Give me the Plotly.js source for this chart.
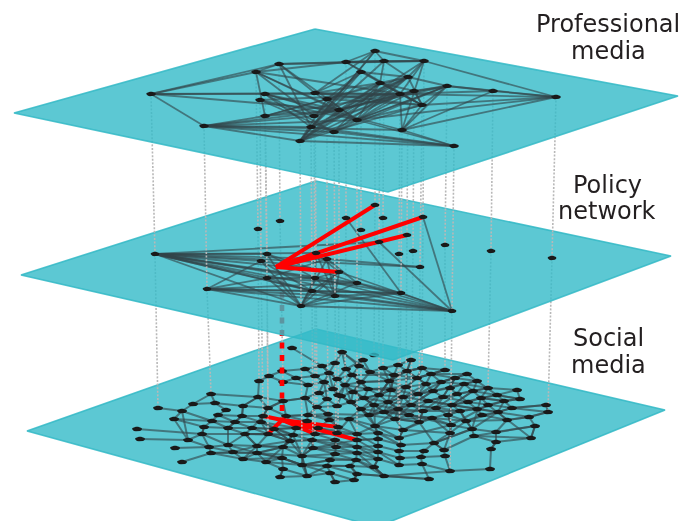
<!DOCTYPE html>
<html><head><meta charset="utf-8">
<script src="https://cdn.plot.ly/plotly-3.0.1.min.js"></script>
<style>html,body{margin:0;padding:0;background:#fff}#chart{filter:blur(0.25px)}</style></head>
<body><div id="chart" style="width:693px;height:521px"></div>
<script>
// plane outlines
const planeTopX=[315,678,388,14], planeTopY=[29,96,192,113];
const planeMidX=[316,671,393,21], planeMidY=[181,256,360,275];
const planeBotX=[316,665,377,27], planeBotY=[329,410,527,431];
// professional media layer (x,y)
const topX=[151,204,256,279,265,260,265,300,311,314,315,327,339,334,357,346,375,384,361,380,424,408,400,414,422,402,447,454,493,556];
const topY=[94,126,72,64,94,100,116,141,127,116,93,99,110,132,120,62,51,61,72,83,61,77,94,91,105,130,86,146,91,97];
// policy network layer
const midX=[155,207,258,280,267,261,267,301,312,315,316,327,339,335,357,346,375,383,361,379,423,407,399,413,420,401,445,452,491,552];
const midY=[254,289,229,221,254,261,278,306,291,278,253,259,272,296,283,218,205,218,230,242,217,235,254,251,267,293,245,311,251,258];
// social media layer
const botX=[292,282,269,259,283,305,322,335,296,315,329,337,308,324,333,319,305,327,338,283,258,211,215,193,158,182,243,226,268,317,337,218,174,212,242,263,286,308,328,235,261,307,329,204,228,252,274,296,318,338,137,202,245,268,293,315,337,140,188,290,312,335,228,209,257,283,313,336,175,233,257,211,335,302,282,243,330,182,266,302,327,283,330,280,307,335,
342,374,363,359,411,398,346,383,422,445,407,370,352,394,431,467,417,455,361,389,441,477,426,464,345,368,406,450,488,517,353,391,433,473,418,457,497,341,379,403,443,481,520,364,428,468,504,351,388,411,452,488,546,374,512,361,398,436,477,548,384,423,460,498,369,409,448,482,529,349,395,432,507,419,466,451,375,535,403,472,496,378,450,357,474,399,531,378,357,496,434,401,378,357,491,424,444,399,378,357,421,445,400,378,356,422,399,374,350,450,490,384,357,429,354];
const botY=[348,371,376,381,382,369,366,363,378,376,373,379,385,382,389,393,398,399,395,401,397,394,403,404,408,411,406,410,408,407,406,415,419,421,416,416,416,415,414,422,422,421,420,427,428,428,429,428,428,427,429,434,434,434,435,434,433,439,440,441,440,440,445,447,446,447,448,447,448,452,453,453,454,456,458,459,460,462,462,465,466,469,473,477,476,482,
352,355,360,366,360,365,369,368,368,370,371,372,375,375,374,374,378,378,382,381,382,381,384,384,385,389,387,388,388,390,392,390,391,391,394,394,395,396,395,397,397,398,399,398,401,402,401,402,402,405,405,405,405,405,408,409,409,408,409,412,412,411,411,412,415,415,415,415,417,419,419,418,420,422,421,425,426,426,430,429,432,433,433,434,436,438,438,439,440,442,443,445,446,447,449,451,450,451,452,453,457,456,458,459,460,464,465,467,466,471,469,476,474,479,480];
// node pairs, professional media
const topEdges=[[0,1],[0,2],[0,3],[0,4],[0,10],[0,12],[1,6],[1,7],[1,8],[1,9],[1,12],[1,13],[1,14],[1,25],[1,27],[2,3],[2,6],[2,22],[2,12],[2,9],[2,15],[2,14],[3,8],[3,14],[3,20],[3,10],[3,17],[4,8],[4,13],[4,14],[4,22],[4,12],[4,25],[5,13],[5,14],[5,9],[5,22],[6,11],[6,22],[6,12],[6,21],[7,16],[7,21],[7,26],[7,19],[7,22],[7,24],[7,18],[7,20],[7,11],[7,12],[7,8],[7,27],[8,16],[8,17],[8,22],[8,23],[8,21],[8,27],[13,21],[13,19],[13,26],[13,23],[13,27],[14,19],[14,22],[14,21],[14,24],[14,26],[14,29],[14,27],[9,22],[9,18],[9,23],[9,21],[10,16],[10,18],[10,22],[10,19],[10,12],[10,24],[11,14],[11,18],[11,19],[11,24],[11,22],[12,21],[12,23],[12,19],[12,26],[15,16],[15,20],[15,17],[15,22],[15,24],[16,20],[16,17],[17,20],[17,21],[17,19],[18,21],[18,24],[19,21],[19,24],[19,23],[20,21],[20,25],[20,22],[20,29],[21,26],[21,24],[22,23],[22,24],[22,26],[22,25],[22,29],[22,28],[23,26],[23,24],[24,26],[25,27],[25,26],[25,24],[25,29],[25,28],[26,28],[26,29],[28,29],[24,29]];
// node pairs, policy network
const midEdges=[[0,4],[0,5],[0,6],[0,7],[0,8],[0,9],[0,10],[0,11],[0,12],[0,13],[0,14],[0,19],[0,24],[0,25],[0,27],[1,5],[1,6],[1,7],[1,8],[1,13],[1,14],[1,25],[1,27],[4,7],[4,9],[4,14],[5,7],[5,8],[5,12],[6,7],[6,8],[6,9],[6,11],[6,14],[7,8],[7,9],[7,11],[7,12],[7,13],[7,14],[7,25],[7,27],[8,25],[8,12],[8,27],[9,12],[9,13],[9,27],[10,9],[10,12],[10,13],[11,13],[11,14],[11,24],[12,13],[12,27],[13,25],[13,27],[14,25],[14,27],[15,25],[19,27],[20,27],[25,27]];
// node chains, social media
const botChains=[[24,25,23,21,20,26,22,23],[21,22,27,31,34,35],[25,33,31,39,45,53,59],[25,58,32,25],[32,33],[32,43,33,44,34],[43,51,63,62,44,39],[50,51,52,53,54],[57,58,51,43,44,45,46,47],[58,63,71,69,62,52],[68,63,69,75,64,52],[77,71,75,70,74,81],[64,70,78,74],[69,70,65,59,46],[75,78,81,83,84],[64,65,73,79,80,85],[70,74,79,82,85],[83,81,84,82],[78,65,54,47,41,37,29],[26,34,40,46,54,60,66],[28,35,40,53,59,60,67],[35,45,52,64,53],[19,28,26],[20,28,36,37,38,49],[36,47,48,56,61],[16,29,38,42,49,56],[19,36,41,48,55,61,67],[19,16,37,42,48],[40,47,55,60,66,73],[59,65,74,79,76,72],[60,73,84,80,76],[66,72,67,61],[55,56,155],[54,55],
[0,6,10,13,15,17,29,38],[1,5,6,7,86,89,97,93,91,90],[2,1,8,9,10,11,92,88,89],[3,2,4,8,12,13,14,18,110,104,105,96,94,95],[3,20,19,16,15,14,11,98,99,102,100,101],[4,12,16,29,30,123,116,111,112,108,106,103,107],[5,9,13,17,30,133,129,124,125,120,118,113,109,114,115],[7,10,14,123,133,141,139,134,135,130,126,121,119,122,128],[6,11,110,116,129,139,142,147,143,136,131,127,132,140,138],[86,92,98,104,111,124,117,112,102,96,90],[88,97,105,117,125,135,143,152,160,153,158,154,145],[89,98,110,123,141,150,146,151,157,161,165,166,163,172],[93,99,105,112,120,130,136,144,149,154,163],[91,96,108,118,126,131,137,140,145,138],[94,100,106,109,119,127,132,128,115],[95,100,103,113,121,131,144,153],[101,107,114,122,128],[94,102,108,120,125,134,146,156,164,171,177,183,188,192],[104,116,133,141,155,169,174,179,185,190,194,198,200],[111,129,139,150,162,167,173,178,184,189,193,197],[117,124,134,142,156,159,157,168,176,181,186,191,199],[135,147,159,164],[136,148,152,161,168,182,187,195,196],[144,148,160,165,170,175,180,196],[149,158,166,175],[170,172,163],[155,162,156,151,159],[169,167,171,164],[174,173,177,176,182],[179,178,183,181],[185,184,188,186,187],[190,189,192,191,195],[194,193,197,199],[198,197],[200,198],[197,195],[85,200],[79,194],[72,190],[67,185],[61,179],[56,174,173],[49,169],[42,155],[38,150,146,147,148],[48,169,162,164,168],[55,169,178],[60,179,184],[66,185,189],[73,190,193],[80,198,197],[82,200],[37,155,167,177],[110,133,150,156,157],[99,117,134,151,161],[96,112,125,142,162,173],[106,118,135,146],[103,126,143,148,165],[107,119,136,149,153],[114,127,137,158,172],[122,132,149],
[86,97,99,96,94],[92,104,105,102,100,95],[98,111,117,120,118,106,101],[110,129,134,125,130,126,103],[123,141,146,135,143,121,109,107],[133,150,142,151,130,136,119,114],[116,139,156,159,176,165,127,122],[129,146,157,160,149,140],[141,162,171,161,137,132],[97,104,116],[93,105,124,129,133],[91,99,117,111,110],[90,96,105,124,141],[94,96,99,124,139,162],[95,102,112,134,150],[100,108,125,146,155],[101,103,106,120,142,150],[107,109,118,135,156],[114,119,126,147,159],[115,122,127,136,152,161,168],[128,132,144,148,157,164],[138,140,149,165,176],[145,154,158,160,168],[163,166,170,182,176],[172,175,180],
[44,52,53,46,47,48],[62,64,65,66,67],[69,64,59,60,61],[71,70,73,72],[75,74,79,76],[78,79,84],[51,62,70,65],[45,46,36,37],[39,40,35,28,19],[34,26,20],[33,39,34],[52,54,73,66],[40,54,65],[46,59,73,84],[66,174,184,192],[67,179,189,193],[72,185,193,197],[76,190,197,199],[80,194,198,200]];
// which social node each policy node continues to
const midToBot=[24,21,3,4,28,35,53,73,66,55,29,38,49,67,174,110,87,93,104,124,94,112,142,135,159,183,95,195,114,145];
// highlighted actor
const policyHub=[276,267];
const policyTargets=[16,20,21,12,10];
const socialHub=[282,420];
const socialTargets=[35,53,174,49,48,55];
const crossX=[282,282], crossY=[280,420];
const labelLines=["Professional","media","Policy","network","Social","media"];
const labelX=[608,608,607,607,608,608], labelY=[24,51,185,211,338,365];

const PLANE_FILL='rgba(51,186,200,0.8)', PLANE_LINE='rgba(50,184,198,0.85)';
const EDGE='rgba(50,68,72,0.62)', DASH='#b8b8b8';
const traces=[];
function plane(xs,ys){traces.push({type:'scatter',mode:'lines',x:[...xs,xs[0]],y:[...ys,ys[0]],fill:'toself',fillcolor:PLANE_FILL,line:{color:PLANE_LINE,width:1.6},hoverinfo:'skip'});}
function edge(xs,ys,ids,w){traces.push({type:'scatter',mode:'lines',x:ids.map(i=>xs[i]),y:ids.map(i=>ys[i]),line:{color:EDGE,width:w},hoverinfo:'skip'});}
function nodes(xs,ys,rx,ry){
  const ex=[],ey=[];
  xs.forEach((cx,i)=>{for(let k=0;k<=14;k++){const t=k/14*2*Math.PI;ex.push(cx+rx*Math.cos(t));ey.push(ys[i]+ry*Math.sin(t));}ex.push(null);ey.push(null);});
  traces.push({type:'scatter',mode:'lines',x:ex,y:ey,fill:'toself',fillcolor:'#1a1a1a',line:{width:0,color:'#1a1a1a'},hoverinfo:'skip'});
  traces.push({type:'scatter',mode:'markers',x:xs,y:ys,marker:{size:3,color:'#1a1a1a'},hoverinfo:'x+y'});
}
function links(x0,y0,x1,y1,map,dash,color,w){
  const xx=[],yy=[];
  x0.forEach((v,i)=>{const j=map?map[i]:i;xx.push(v,x1[j],null);yy.push(y0[i],y1[j],null);});
  traces.push({type:'scatter',mode:'lines',x:xx,y:yy,line:{color:color,width:w,dash:dash},hoverinfo:'skip'});
}
function star(hub,tx,ty,ids,w){
  ids.forEach(i=>traces.push({type:'scatter',mode:'lines',x:[hub[0],tx[i]],y:[hub[1],ty[i]],line:{color:'#ff0000',width:w},hoverinfo:'skip'}));
}
// social
plane(planeBotX,planeBotY);
botChains.forEach(c=>edge(botX,botY,c,2));
star(socialHub,botX,botY,socialTargets,4);
links(midX,midY,botX,botY,midToBot,'2px,1.6px',DASH,1.6);
nodes(botX,botY,5,2.4);
traces.push({type:'scatter',mode:'lines',x:crossX,y:crossY,line:{color:'#ff0000',width:4.6,dash:'6px,6.5px'},hoverinfo:'skip'});
// policy
plane(planeMidX,planeMidY);
midEdges.forEach(e=>edge(midX,midY,e,1.8));
links(topX,topY,midX,midY,null,'2px,1.6px',DASH,1.6);
star(policyHub,midX,midY,policyTargets,4);
nodes(midX,midY,4.4,2.2);
// professional
plane(planeTopX,planeTopY);
topEdges.forEach(e=>edge(topX,topY,e,1.8));
nodes(topX,topY,4.8,2.2);

const layout={width:693,height:521,margin:{l:0,r:0,t:0,b:0},showlegend:false,paper_bgcolor:'#fff',plot_bgcolor:'#fff',
 xaxis:{range:[0,693],visible:false,fixedrange:true},yaxis:{range:[521,0],visible:false,fixedrange:true},
 annotations:labelLines.map((t,i)=>({text:t,x:labelX[i],y:labelY[i],xref:'x',yref:'y',xanchor:'center',yanchor:'middle',showarrow:false,align:'center',font:{family:'DejaVu Sans',size:24,color:'#231f20'}}))};
Plotly.newPlot('chart',traces,layout,{displayModeBar:false,staticPlot:true});
</script></body></html>
